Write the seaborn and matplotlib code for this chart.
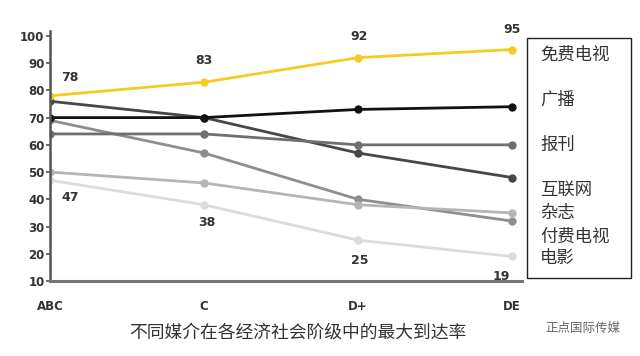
import matplotlib
matplotlib.use("Agg")
import matplotlib.pyplot as plt
import seaborn as sns
import pandas as pd

classes = ["ABC", "C", "D+", "DE"]
media = ["免费电视", "广播", "报刊", "互联网", "杂志", "付费电视", "电影"]
free_tv = [78, 83, 92, 95]
radio = [70, 70, 73, 74]
newspaper = [64, 64, 60, 60]
internet = [76, 70, 57, 48]
magazine = [50, 46, 38, 35]
pay_tv = [69, 57, 40, 32]
cinema = [47, 38, 25, 19]
colours = ["#F5CB22", "#111111", "#6F6F6F", "#474747", "#B5B5B5", "#8E8E8E", "#DCDCDC"]

series = [free_tv, radio, newspaper, internet, magazine, pay_tv, cinema]
rows = []
for name, vals in zip(media, series):
    for i, v in enumerate(vals):
        rows.append({"media": name, "pos": i, "value": v})
df = pd.DataFrame(rows)

sns.set_style("white")
plt.rcParams["font.family"] = ["Noto Sans CJK SC", "DejaVu Sans"]

fig = plt.figure(figsize=(6.4, 3.56), dpi=100)
ax = fig.add_axes([50 / 640, 1 - 281 / 356, 472 / 640, 250 / 356])

# draw light lines first so darker ones sit on top
order = list(reversed(media))
sns.lineplot(data=df, x="pos", y="value", hue="media", hue_order=order,
             palette=dict(zip(media, colours)), marker="o", markersize=6,
             markeredgewidth=0, linewidth=2, legend=False, ax=ax)

ax.set_xlim(0, 3.065)
ax.set_ylim(10, 101.8)
ax.set_yticks(range(10, 101, 10))
ax.set_xticks(range(4))
ax.set_xticklabels(classes)
ax.set_xlabel("")
ax.set_ylabel("")
for lab in ax.get_yticklabels() + ax.get_xticklabels():
    lab.set_family("DejaVu Sans")
    lab.set_fontweight("bold")
    lab.set_fontsize(8.5)
    lab.set_color("#333333")
ax.tick_params(axis="y", length=3, width=1.2, color="#555555", direction="out", left=True, pad=1)
ax.tick_params(axis="x", length=0, pad=14)
for s in ["top", "right"]:
    ax.spines[s].set_visible(False)
ax.spines["left"].set_color("#555555")
ax.spines["left"].set_linewidth(1.8)
ax.spines["bottom"].set_color("#777777")
ax.spines["bottom"].set_linewidth(2.2)

# value labels
top_offsets = [(0.13, 4.5), (0, 5.5), (0.01, 5.5), (0, 5)]
for i, v in enumerate(free_tv):
    dx, dy = top_offsets[i]
    ax.text(i + dx, v + dy, str(v), ha="center", va="bottom", fontsize=9,
            fontweight="bold", color="#333333", family="DejaVu Sans")
bot_offsets = [(0.13, -4), (0.02, -4), (0.01, -5), (-0.07, -5)]
for i, v in enumerate(cinema):
    dx, dy = bot_offsets[i]
    ax.text(i + dx, v + dy, str(v), ha="center", va="top", fontsize=9,
            fontweight="bold", color="#333333", family="DejaVu Sans")

# legend box on the right
fig.patches.append(plt.Rectangle((527 / 640, 1 - 278 / 356), 104 / 640, 240 / 356,
                                 transform=fig.transFigure, fill=False,
                                 edgecolor="#222222", linewidth=1))
legend_y = [55, 100, 145, 190, 213, 237, 258]
for name, y in zip(media, legend_y):
    fig.text(540 / 640, 1 - y / 356, name, fontsize=12.5, color="#333333", va="center", ha="left")

fig.text(298 / 640, 1 - 333 / 356, "不同媒介在各经济社会阶级中的最大到达率",
         fontsize=12.8, color="#333333", ha="center", va="center")
fig.text(545 / 640, 1 - 328 / 356, "正点国际传媒", fontsize=9, color="#666666",
         ha="left", va="center")

fig.savefig("out.png", dpi=100)
